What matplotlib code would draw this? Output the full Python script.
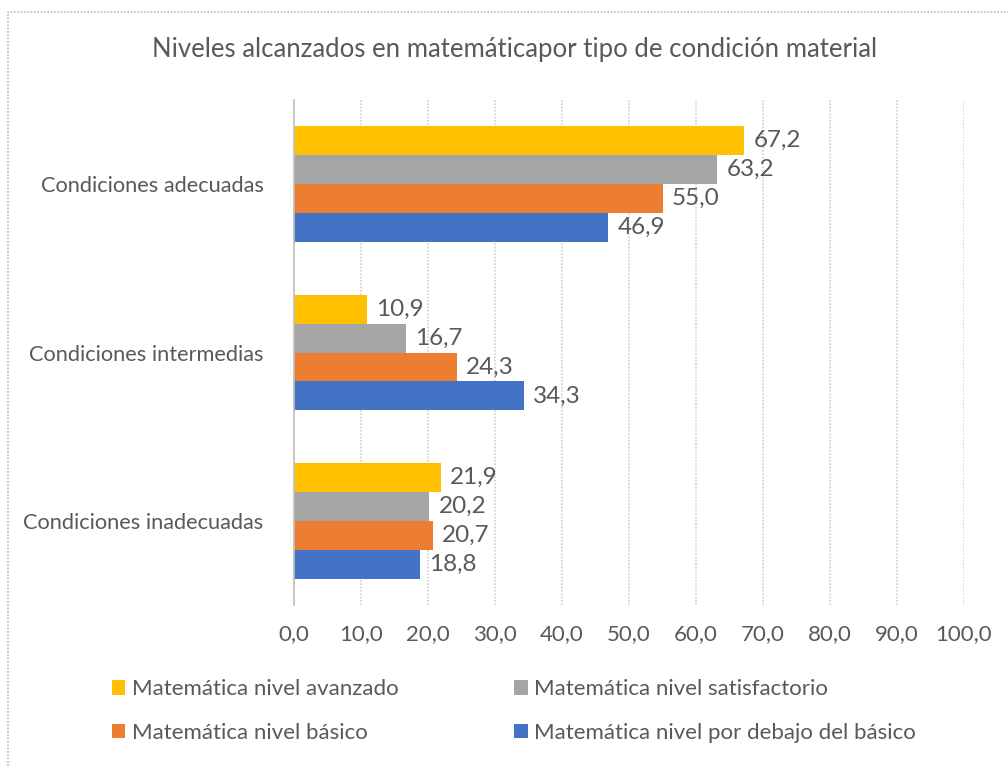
import numpy as np
import matplotlib
matplotlib.use("Agg")
import matplotlib.pyplot as plt
from matplotlib.patches import Rectangle

categories = ["Condiciones adecuadas", "Condiciones intermedias", "Condiciones inadecuadas"]
series_names = [
    "Matemática nivel avanzado",
    "Matemática nivel satisfactorio",
    "Matemática nivel básico",
    "Matemática nivel por debajo del básico",
]
avanzado = [67.2, 10.9, 21.9]
satisfactorio = [63.2, 16.7, 20.2]
basico = [55.0, 24.3, 20.7]
debajo = [46.9, 34.3, 18.8]
xticks = [0, 10, 20, 30, 40, 50, 60, 70, 80, 90, 100]

colors = ["#FFC000", "#A5A5A5", "#ED7D31", "#4472C4"]
text_color = "#595959"
plt.rcParams["font.family"] = ["Lato", "DejaVu Sans"]

fig = plt.figure(figsize=(10.08, 7.66), dpi=100)
ax = fig.add_axes([294 / 1008, 1 - 605 / 766, (964 - 294) / 1008, (605 - 100) / 766])

y = np.arange(len(categories))
h = 0.172
series = [avanzado, satisfactorio, basico, debajo]
for i, (vals, name, c) in enumerate(zip(series, series_names, colors)):
    pos = y + (i - 1.5) * h
    bars = ax.barh(pos, vals, height=h, color=c, label=name, edgecolor="none")
    for b, v in zip(bars, vals):
        ax.text(v + 1.4, b.get_y() + b.get_height() / 2,
                f"{v:.1f}".replace(".", ","), va="center", ha="left",
                fontsize=17.5, color=text_color)

ax.set_xlim(0, 100)
ax.set_ylim(2.5, -0.5)
ax.set_xticks(xticks)
ax.set_xticklabels([f"{t:.1f}".replace(".", ",") for t in xticks],
                   fontsize=16, color=text_color)
ax.set_yticks(y)
ax.set_yticklabels(categories, fontsize=15.7, color=text_color)
ax.tick_params(length=0, pad=14)
ax.tick_params(axis="y", pad=22)
ax.grid(axis="x", color="#D0D0D0", linestyle=(0, (1, 1)), linewidth=1.2)
ax.set_axisbelow(True)
for s in ["top", "right", "bottom"]:
    ax.spines[s].set_visible(False)
ax.spines["left"].set_color("#BFBFBF")
ax.spines["left"].set_linewidth(1.2)

fig.text(515 / 1008, 1 - 50 / 766,
         "Niveles alcanzados en matemáticapor tipo de condición material",
         ha="center", va="center", fontsize=18.5, color=text_color)

handles, labels = ax.get_legend_handles_labels()
order = [0, 2, 1, 3]
leg = fig.legend([handles[k] for k in order], [labels[k] for k in order],
                 ncol=2, loc="center left",
                 bbox_to_anchor=(92 / 1008, 1 - 711 / 766),
                 frameon=False, fontsize=16, handlelength=0.6, handleheight=0.6,
                 handletextpad=0.3, columnspacing=5.2, labelspacing=1.05)
for t in leg.get_texts():
    t.set_color(text_color)

fig.patches.append(Rectangle((8 / 1008, -0.01), 1.1, 1 - 12 / 766 + 0.01,
                             transform=fig.transFigure, fill=False,
                             edgecolor="#BBBBBB", linestyle=(0, (1, 1)), linewidth=1.2))

fig.savefig("out.png", dpi=100, facecolor="white")
